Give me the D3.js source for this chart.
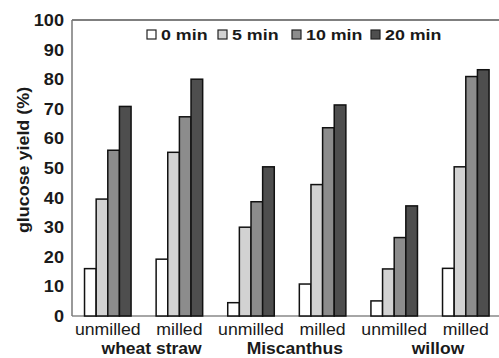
<!DOCTYPE html>
<html>
<head>
<meta charset="utf-8">
<script src="https://cdn.jsdelivr.net/npm/d3@7"></script>
<style>
  body { margin: 0; background: #fff; }
  text { font-family: "Liberation Sans", Arial, sans-serif; fill: #1a1a1a; }
</style>
</head>
<body>
<div id="chart"></div>
<script>
// data
const categories = ["unmilled", "milled", "unmilled", "milled", "unmilled", "milled"];
const materials = ["wheat straw", "Miscanthus", "willow"];
const series = ["0 min", "5 min", "10 min", "20 min"];
const min0 = [16, 19.2, 4.5, 10.8, 5.1, 16.1];
const min5 = [39.5, 55.3, 30, 44.4, 15.9, 50.4];
const min10 = [56, 67.3, 38.6, 63.6, 26.5, 80.9];
const min20 = [70.8, 80, 50.4, 71.3, 37.2, 83.2];
const yTicks = [0, 10, 20, 30, 40, 50, 60, 70, 80, 90, 100];

const colors = ["#ffffff", "#d2d2d2", "#8c8c8c", "#4e4e4e"];
const values = [min0, min5, min10, min20];

const width = 499, height = 358;
const margin = {top: 20, right: 0, bottom: 42, left: 72};

const svg = d3.select("#chart")
  .append("svg")
  .attr("width", width)
  .attr("height", height);

// text in the figure is a bit wider than Arial, so stretch it
function label(parent, x, y, str, size, bold, anchor, rot, sx) {
  return parent.append("text")
    .attr("transform", "translate(" + x + "," + y + ") rotate(" + (rot || 0) + ") scale(" + sx + ",1)")
    .attr("text-anchor", anchor)
    .style("font-size", size + "px")
    .style("font-weight", bold ? "bold" : "normal")
    .text(str);
}

const x = d3.scaleBand()
  .domain(d3.range(categories.length))
  .range([margin.left, margin.left + 6 * 71.6])
  .paddingInner(0.35)
  .paddingOuter(0.175);

const xInner = d3.scaleBand()
  .domain(series)
  .range([0, x.bandwidth()]);

const y = d3.scaleLinear()
  .domain([0, 100])
  .range([height - margin.bottom, margin.top]);

// axis frame
svg.append("line")
  .attr("x1", margin.left).attr("x2", width)
  .attr("y1", y(100)).attr("y2", y(100))
  .attr("stroke", "#555").attr("stroke-width", 1.5);
svg.append("line")
  .attr("x1", margin.left).attr("x2", width)
  .attr("y1", y(0)).attr("y2", y(0))
  .attr("stroke", "#888").attr("stroke-width", 1.5);
svg.append("line")
  .attr("x1", margin.left).attr("x2", margin.left)
  .attr("y1", y(0)).attr("y2", y(100))
  .attr("stroke", "#777").attr("stroke-width", 1.5);

// y tick labels, placed with the scale
const ticks = svg.append("g");
yTicks.forEach(function(t) {
  label(ticks, 64, y(t) + 6, t, 16.5, true, "end", 0, 1.1);
});

label(svg, 29, 160, "glucose yield (%)", 16, true, "middle", -90, 1.12);

// bars
series.forEach(function(s, si) {
  svg.append("g").selectAll("rect")
    .data(values[si])
    .enter()
    .append("rect")
      .attr("x", function(d, i) { return x(i) + xInner(s); })
      .attr("y", function(d) { return y(d); })
      .attr("width", xInner.bandwidth())
      .attr("height", function(d) { return y(0) - y(d); })
      .attr("fill", colors[si])
      .attr("stroke", "#111")
      .attr("stroke-width", 1.5);
});

// category labels
const cats = svg.append("g");
categories.forEach(function(c, i) {
  label(cats, x(i) + x.bandwidth() / 2, 335, c, 17, false, "middle", 0, 1.04);
});
const mats = svg.append("g");
materials.forEach(function(m, i) {
  const cx = (x(2 * i) + x(2 * i + 1) + x.bandwidth()) / 2 + 8;
  label(mats, cx, 354, m, 16.5, true, "middle", 0, 1.06);
});

// legend
const legendX = [147, 218, 292, 371];
const legend = svg.append("g");
series.forEach(function(s, si) {
  legend.append("rect")
    .attr("x", legendX[si]).attr("y", 30)
    .attr("width", 9).attr("height", 9)
    .attr("fill", colors[si])
    .attr("stroke", "#222").attr("stroke-width", 1.2);
  label(legend, legendX[si] + 14, 39.5, s, 15.5, true, "start", 0, 1.15);
});
</script>
</body>
</html>
